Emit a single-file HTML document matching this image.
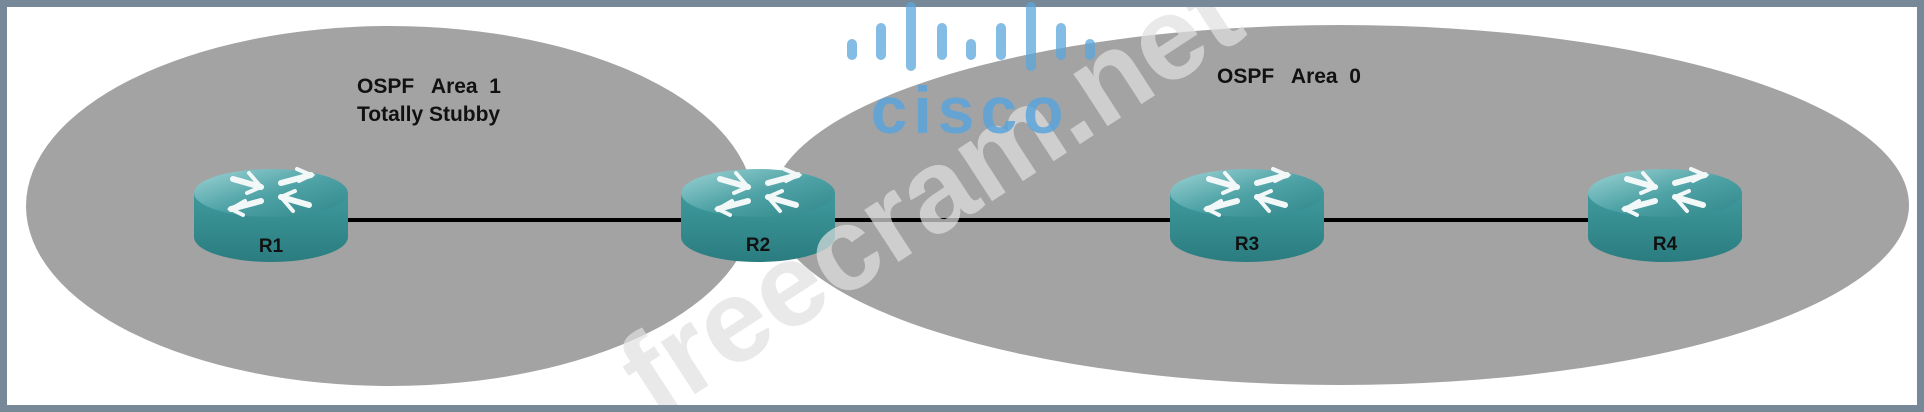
<!DOCTYPE html>
<html><head><style>
html,body{margin:0;padding:0;background:#fff;width:1924px;height:412px;overflow:hidden}
svg{display:block}
</style></head><body>
<svg width="1924" height="412" viewBox="0 0 1924 412" xmlns="http://www.w3.org/2000/svg">
<defs>
<linearGradient id="top" x1="0" y1="0" x2="1" y2="1">
<stop offset="0" stop-color="#9fd4d6"/><stop offset="0.5" stop-color="#4fa3a6"/><stop offset="1" stop-color="#2f8689"/>
</linearGradient>
<linearGradient id="side" x1="0" y1="0" x2="0" y2="1">
<stop offset="0" stop-color="#3f9a9d"/><stop offset="1" stop-color="#2a7c7f"/>
</linearGradient>
<clipPath id="c"><rect x="7" y="7" width="1910" height="398"/></clipPath>
<g id="rt">
<path d="M-77,-22 L-77,22 A77,25 0 0 0 77,22 L77,-22 Z" fill="url(#side)"/>
<ellipse cx="0" cy="-22" rx="77" ry="24" fill="url(#top)"/>
<g stroke="#f2f7f7" stroke-width="6" fill="none" stroke-linecap="round">
<path d="M-38,-36 L-10,-28"/><path d="M-22,-42 L-10,-28 L-24,-22" stroke-width="4"/>
<path d="M38,-10 L10,-18"/><path d="M22,-4 L10,-18 L24,-24" stroke-width="4"/>
<path d="M-10,-14 L-40,-6"/><path d="M-26,-14 L-40,-6 L-28,0" stroke-width="4"/>
<path d="M10,-32 L40,-40"/><path d="M26,-46 L40,-40 L28,-34" stroke-width="4"/>
</g>
</g>
</defs>
<rect x="0" y="0" width="1924" height="412" fill="#778899"/>
<rect x="7" y="7" width="1910" height="398" fill="#ffffff"/>
<ellipse cx="390" cy="206" rx="364" ry="180" fill="#a3a3a3"/>
<ellipse cx="1340" cy="205" rx="569" ry="180" fill="#a3a3a3"/>
<line x1="271" y1="220" x2="1665" y2="220" stroke="#000" stroke-width="4"/>
<g font-family="Liberation Sans, sans-serif" font-weight="bold" font-size="21" fill="#111">
<text x="357" y="93">OSPF&#160;&#160; Area&#160; 1</text>
<text x="357" y="121">Totally Stubby</text>
<text x="1217" y="83">OSPF&#160;&#160; Area&#160; 0</text>
</g>
<use href="#rt" x="271" y="215"/>
<use href="#rt" x="758" y="215"/>
<use href="#rt" x="1247" y="215"/>
<use href="#rt" x="1665" y="215"/>
<g font-family="Liberation Sans, sans-serif" font-weight="bold" font-size="19" fill="#111" text-anchor="middle">
<text x="271" y="252">R1</text><text x="758" y="251">R2</text><text x="1247" y="250">R3</text><text x="1665" y="250">R4</text>
</g>
<g clip-path="url(#c)">
<text x="0" y="0" transform="translate(655,420) rotate(-33)" font-family="Liberation Sans, sans-serif" font-weight="bold" font-size="118" fill="#e0e0e0" fill-opacity="0.7">freecram.net</text>
</g>
<g stroke="#5aa5db" stroke-opacity="0.75" stroke-width="10" stroke-linecap="round">
<line x1="852" y1="44" x2="852" y2="55"/>
<line x1="881" y1="28" x2="881" y2="55"/>
<line x1="911" y1="7" x2="911" y2="66"/>
<line x1="942" y1="28" x2="942" y2="55"/>
<line x1="971" y1="44" x2="971" y2="55"/>
<line x1="1001" y1="28" x2="1001" y2="55"/>
<line x1="1031" y1="7" x2="1031" y2="66"/>
<line x1="1061" y1="28" x2="1061" y2="55"/>
<line x1="1090" y1="44" x2="1090" y2="55"/>
</g>
<text x="970" y="133" text-anchor="middle" font-family="Liberation Sans, sans-serif" font-weight="bold" font-size="66" letter-spacing="6" fill="#5aa5db" fill-opacity="0.85">cisco</text>
</svg>
</body></html>
